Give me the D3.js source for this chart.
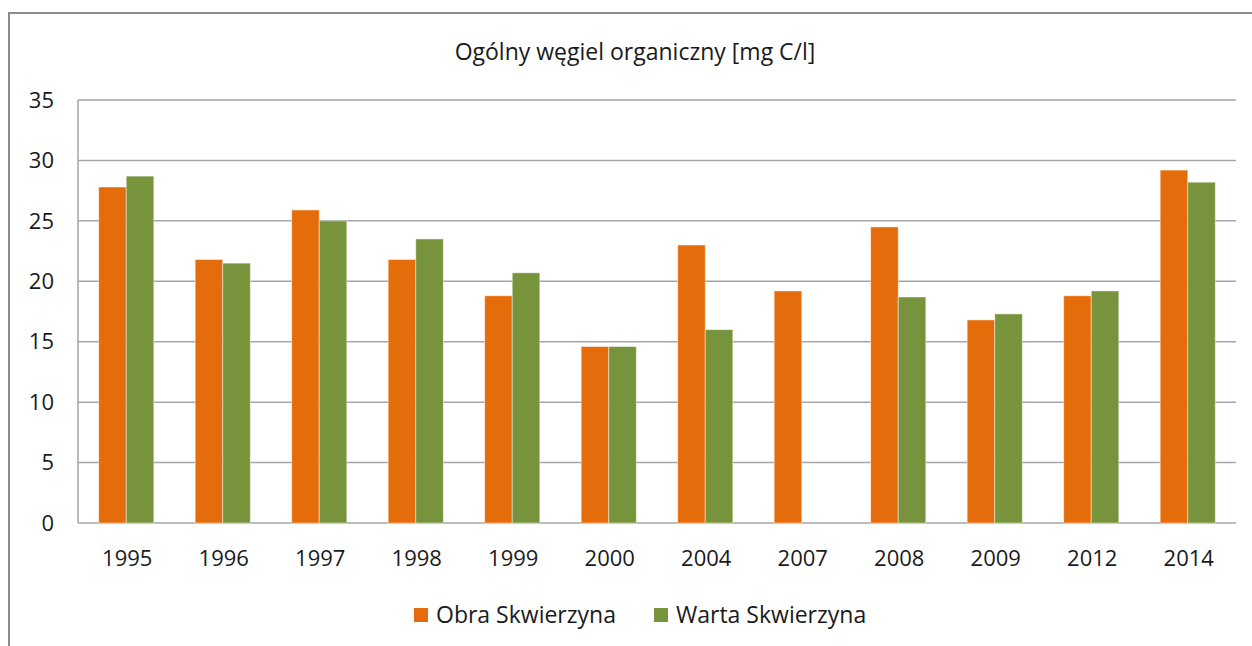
<!DOCTYPE html>
<html>
<head>
<meta charset="utf-8">
<script src="https://cdn.jsdelivr.net/npm/d3@7"></script>
<style>
  body { margin: 0; background: #fff; }
  text { font-family: "Open Sans", sans-serif; fill: #1a1a1a; }
</style>
</head>
<body>
<script>
var W = 1252, H = 646;
var margin = {top: 100, right: 16, bottom: 123, left: 78};

var years = ["1995", "1996", "1997", "1998", "1999", "2000", "2004", "2007", "2008", "2009", "2012", "2014"];
var obra  = [27.8, 21.8, 25.9, 21.8, 18.8, 14.6, 23.0, 19.2, 24.5, 16.8, 18.8, 29.2];
var warta = [28.7, 21.5, 25.0, 23.5, 20.7, 14.6, 16.0, null, 18.7, 17.3, 19.2, 28.2];
var seriesNames = ["Obra Skwierzyna", "Warta Skwierzyna"];
var colors = ["#e46c0a", "#77933c"];
var yTicks = [0, 5, 10, 15, 20, 25, 30, 35];

var svg = d3.select("body").append("svg")
    .attr("width", W)
    .attr("height", H);

// outer frame
svg.append("rect")
    .attr("x", 9).attr("y", 13)
    .attr("width", W + 10).attr("height", H)
    .attr("fill", "none")
    .attr("stroke", "#8c8c8c")
    .attr("stroke-width", 2);

var x = d3.scaleBand()
    .domain(years)
    .range([margin.left, W - margin.right])
    .paddingInner(0).paddingOuter(0);

var bw = x.bandwidth() / 3.5;   // gap width 150%

var y = d3.scaleLinear()
    .domain([0, 35])
    .range([H - margin.bottom, margin.top]);

// grid
svg.append("g").selectAll("line")
    .data(yTicks)
    .enter().append("line")
    .attr("x1", margin.left)
    .attr("x2", W - margin.right)
    .attr("y1", function(d) { return y(d); })
    .attr("y2", function(d) { return y(d); })
    .attr("stroke", "#a6a6a6")
    .attr("stroke-width", 1.5);

svg.append("line")
    .attr("x1", margin.left).attr("x2", margin.left)
    .attr("y1", y(35)).attr("y2", y(0))
    .attr("stroke", "#a6a6a6")
    .attr("stroke-width", 1.5);

// y labels
svg.append("g").selectAll("text")
    .data(yTicks)
    .enter().append("text")
    .attr("x", 54)
    .attr("y", function(d) { return y(d); })
    .attr("dy", "0.35em")
    .attr("text-anchor", "end")
    .style("font-size", "22px")
    .text(function(d) { return d; });

// x labels
svg.append("g").selectAll("text")
    .data(years)
    .enter().append("text")
    .attr("x", function(d) { return x(d) + x.bandwidth() / 2 + 1; })
    .attr("y", 566)
    .attr("text-anchor", "middle")
    .style("font-size", "22px")
    .text(function(d) { return d; });

// bars
[obra, warta].forEach(function(vals, s) {
  svg.append("g").selectAll("rect")
      .data(vals.map(function(v, i) { return {year: years[i], v: v}; })
                .filter(function(d) { return d.v != null; }))
      .enter().append("rect")
      .attr("x", function(d) { return x(d.year) + 0.75 * bw + s * bw; })
      .attr("y", function(d) { return y(d.v); })
      .attr("width", bw)
      .attr("height", function(d) { return y(0) - y(d.v); })
      .attr("fill", colors[s])
      .attr("stroke", "#fff")
      .attr("stroke-opacity", 0.45)
      .attr("stroke-width", 1);
});

// title
svg.append("text")
    .attr("x", 635)
    .attr("y", 60)
    .attr("text-anchor", "middle")
    .style("font-size", "23px")
    .text("Ogólny węgiel organiczny [mg C/l]");

// legend
var legendX = [414, 654];
var legend = svg.append("g").selectAll("g")
    .data(seriesNames)
    .enter().append("g");

legend.append("rect")
    .attr("x", function(d, i) { return legendX[i]; })
    .attr("y", 608)
    .attr("width", 14).attr("height", 14)
    .attr("fill", function(d, i) { return colors[i]; });

legend.append("text")
    .attr("x", function(d, i) { return legendX[i] + 22; })
    .attr("y", 623)
    .style("font-size", "23px")
    .text(function(d) { return d; });
</script>
</body>
</html>
